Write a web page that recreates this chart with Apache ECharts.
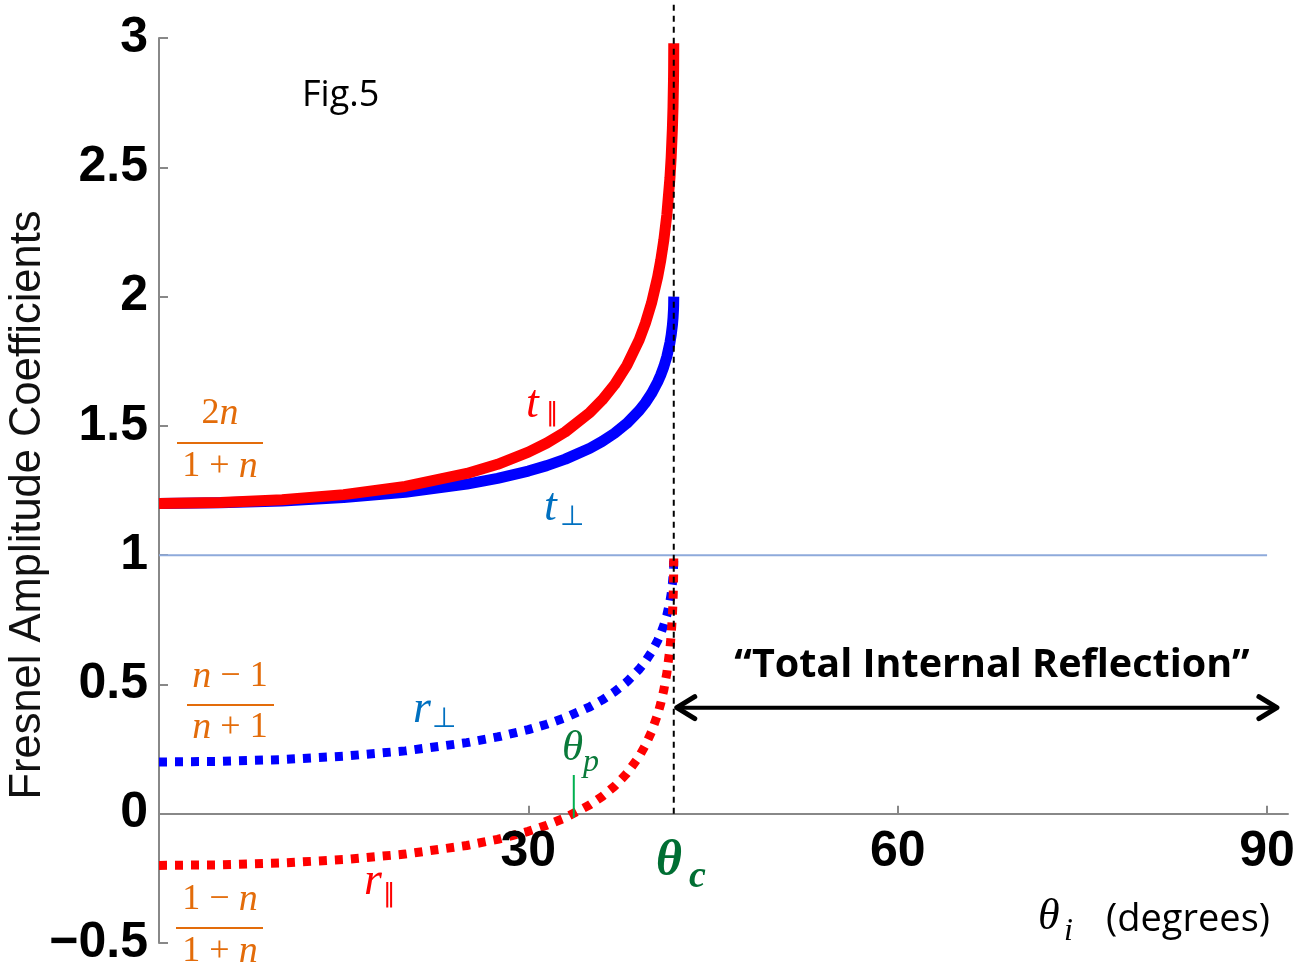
<!DOCTYPE html>
<html>
<head>
<meta charset="utf-8">
<script src="https://cdn.jsdelivr.net/npm/echarts@6/dist/echarts.min.js"></script>
<style>
html, body { margin: 0; padding: 0; background: #fff; }
#chart { width: 1306px; height: 968px; }
</style>
</head>
<body>
<div id="chart"></div>
<script>
// incidence angles (degrees) and the coefficients
const angles = [0, 5, 10, 15, 20, 25, 27.5, 30, 31.5, 33, 35, 36, 37, 38, 39, 39.5, 40, 40.5, 40.75, 41, 41.25, 41.5, 41.6, 41.7, 41.75, 41.79, 41.8, 41.81];
const tPar  = [1.2, 1.2035, 1.2143, 1.234, 1.2657, 1.3158, 1.3515, 1.3982, 1.4336, 1.4768, 1.5518, 1.6001, 1.6593, 1.7338, 1.8327, 1.8962, 1.9745, 2.0755, 2.1395, 2.2171, 2.3171, 2.4584, 2.5388, 2.6508, 2.7331, 2.8385, 2.8867, 2.98];
const tPerp = [1.2, 1.2023, 1.2095, 1.2225, 1.243, 1.2748, 1.2969, 1.3252, 1.3462, 1.3713, 1.4136, 1.4401, 1.4715, 1.5099, 1.5587, 1.5889, 1.6249, 1.6695, 1.6967, 1.7287, 1.7684, 1.8216, 1.8506, 1.8894, 1.9168, 1.9507, 1.9657, 2.0];
const rPar  = [-0.2, -0.1977, -0.1905, -0.1773, -0.1562, -0.1228, -0.099, -0.0679, -0.0443, -0.0155, 0.0345, 0.0667, 0.1062, 0.1559, 0.2218, 0.2642, 0.3163, 0.3837, 0.4263, 0.478, 0.5447, 0.6389, 0.6926, 0.7672, 0.822, 0.8923, 0.9245, 1.0];
const rPerp = [0.2, 0.2023, 0.2095, 0.2225, 0.243, 0.2748, 0.2969, 0.3252, 0.3462, 0.3713, 0.4136, 0.4401, 0.4715, 0.5099, 0.5587, 0.5889, 0.6249, 0.6695, 0.6967, 0.7287, 0.7684, 0.8216, 0.8506, 0.8894, 0.9168, 0.9507, 0.9657, 1.0];
const thetaC = 41.81;
const thetaP = 33.69;
const unityX = [0, 90];
const unityY = [1, 1];
const xTickValues = [30, 60, 90];

const pairs = ys => angles.map((a, i) => [a, ys[i]]);

const chart = echarts.init(document.getElementById('chart'));

const serif = '"Liberation Serif", "DejaVu Serif", serif';
const sans = '"Open Sans", "Noto Sans", sans-serif';
const arial = '"Liberation Sans", Arial, sans-serif';
const symb = '"DejaVu Sans", sans-serif';

function txt(x, y, text, font, color, align, vAlign, extra) {
    return Object.assign({
        type: 'text', x: x, y: y, z: 100,
        style: { text: text, font: font, fill: color, align: align || 'left', verticalAlign: vAlign || 'middle' }
    }, extra || {});
}
function hline(x1, x2, y, color, w) {
    return { type: 'line', z: 100, shape: { x1: x1, y1: y, x2: x2, y2: y }, style: { stroke: color, lineWidth: w } };
}

const orange = '#e36c0a';
// fraction pieces: italic n, upright digits and operators
const fracRich = {
    n: { fontFamily: '"Liberation Serif", serif', fontStyle: 'italic', fontSize: 38, fill: orange },
    d: { fontFamily: '"Liberation Serif", serif', fontSize: 36, fill: orange }
};
function frac(x, y, text) {
    return { type: 'text', x: x, y: y, z: 100, style: { text: text, rich: fracRich, align: 'center', verticalAlign: 'middle' } };
}

chart.setOption({
    animation: false,
    grid: { left: 159, right: 18, top: 38, bottom: 25, containLabel: false, outerBoundsMode: 'none' },
    xAxis: {
        type: 'value',
        min: 0,
        max: 91.7,
        axisLine: { onZero: true, lineStyle: { color: '#888', width: 2 } },
        axisTick: { inside: true, length: 8, customValues: xTickValues, lineStyle: { color: '#888', width: 2 } },
        axisLabel: { show: false },
        splitLine: { show: false }
    },
    yAxis: {
        type: 'value',
        min: -0.5,
        max: 3,
        interval: 0.5,
        axisLine: { show: true, lineStyle: { color: '#888', width: 2 } },
        axisTick: { show: true, inside: true, length: 9, lineStyle: { color: '#888', width: 2 } },
        axisLabel: {
            margin: 11,
            color: '#000',
            fontSize: 50,
            fontWeight: 'bold',
            fontFamily: arial,
            formatter: v => v < 0 ? '\u2212' + Math.abs(v) : String(v)
        },
        splitLine: { show: false }
    },
    series: [
        {
            name: 'unity', type: 'line', symbol: 'none', silent: true,
            data: unityX.map((x, i) => [x, unityY[i]]),
            lineStyle: { color: '#8eaadb', width: 2 }
        },
        {
            name: 't_perp', type: 'line', symbol: 'none',
            data: pairs(tPerp),
            lineStyle: { color: '#0000ff', width: 11, join: 'round' }
        },
        {
            name: 't_par', type: 'line', symbol: 'none',
            data: pairs(tPar),
            lineStyle: { color: '#ff0000', width: 11, join: 'round' }
        },
        {
            name: 'r_perp', type: 'line', symbol: 'none',
            data: pairs(rPerp),
            lineStyle: { color: '#0000ff', width: 9, type: [8, 8] }
        },
        {
            name: 'r_par', type: 'line', symbol: 'none',
            data: pairs(rPar),
            lineStyle: { color: '#ff0000', width: 9, type: [8, 8] }
        },
        {
            name: 'critical', type: 'line', symbol: 'none', clip: false, z: 5,
            data: [[thetaC, 0], [thetaC, 3.13]],
            lineStyle: { color: '#000', width: 2, type: [6, 5] }
        }
    ]
});

// annotations placed with the chart's own coordinate conversion
const px = p => chart.convertToPixel({ gridIndex: 0 }, p);
const arrowL = px([thetaC, 0.41]);
const arrowR = px([90.8, 0.41]);
const pPix = px([thetaP, 0]);
const ah = 18, aw = 11;

const xLabels = xTickValues.map(v => {
    const p = px([v, 0]);
    return txt(p[0], p[1] + 39, String(v), 'bold 50px ' + arial, '#000', 'center', 'middle');
});

chart.setOption({
    graphic: xLabels.concat([
        txt(28, 505, 'Fresnel Amplitude Coefficients', '43.5px ' + arial, '#111', 'center', 'middle', { rotation: Math.PI / 2 }),
        txt(302, 96, 'Fig.5', '36px ' + sans, '#000'),

        // t parallel / t perp
        txt(526, 405, 't', 'italic 46px ' + serif, '#ff0000'),
        txt(546, 414, '\u2225', '26px ' + symb, '#ff0000'),
        txt(544, 508, 't', 'italic 46px ' + serif, '#0070c0'),
        txt(560, 518, '\u22a5', '28px ' + symb, '#0070c0'),
        // r perp / r parallel
        txt(413, 710, 'r', 'italic 46px ' + serif, '#0070c0'),
        txt(432, 720, '\u22a5', '28px ' + symb, '#0070c0'),
        txt(364, 882, 'r', 'italic 46px ' + serif, '#ff0000'),
        txt(383, 895, '\u2225', '26px ' + symb, '#ff0000'),
        // theta_p
        txt(562, 749, '\u03b8', 'italic 43px ' + serif, '#0a7a3a'),
        txt(583, 763, 'p', 'italic 32px ' + serif, '#0a7a3a'),
        { type: 'line', z: 100, shape: { x1: pPix[0], y1: 775, x2: pPix[0], y2: pPix[1] + 4 }, style: { stroke: '#00b050', lineWidth: 2 } },
        // theta_c
        txt(656, 862, '\u03b8', 'italic bold 50px ' + serif, '#006e33'),
        txt(689, 877, 'c', 'italic bold 38px ' + serif, '#006e33'),

        // fractions
        frac(220, 414, '{d|2}{n|n}'),
        hline(177, 263, 443, orange, 2),
        frac(220, 467, '{d|1 + }{n|n}'),
        frac(230, 677, '{n|n}{d| \u2212 1}'),
        hline(187, 274, 705, orange, 2),
        frac(230, 728, '{n|n}{d| + 1}'),
        frac(220, 900, '{d|1 \u2212 }{n|n}'),
        hline(176, 263, 928, orange, 2),
        frac(220, 952, '{d|1 + }{n|n}'),

        // total internal reflection
        txt(992, 666, '\u201cTotal Internal Reflection\u201d', 'bold 39.5px ' + sans, '#000', 'center'),
        { type: 'line', z: 100, shape: { x1: arrowL[0] + 3, y1: arrowL[1], x2: arrowR[0], y2: arrowR[1] }, style: { stroke: '#000', lineWidth: 4 } },
        { type: 'polyline', z: 100, shape: { points: [[arrowL[0] + 3 + ah, arrowL[1] - aw], [arrowL[0] + 3, arrowL[1]], [arrowL[0] + 3 + ah, arrowL[1] + aw]] }, style: { stroke: '#000', lineWidth: 5, fill: 'none', lineCap: 'round', lineJoin: 'round' } },
        { type: 'polyline', z: 100, shape: { points: [[arrowR[0] - ah, arrowR[1] - aw], [arrowR[0], arrowR[1]], [arrowR[0] - ah, arrowR[1] + aw]] }, style: { stroke: '#000', lineWidth: 5, fill: 'none', lineCap: 'round', lineJoin: 'round' } },

        // x axis name
        txt(1038, 917, '\u03b8', 'italic 44px ' + serif, '#000'),
        txt(1064, 932, 'i', 'italic 32px ' + serif, '#000'),
        txt(1106, 920, '(degrees)', '38px ' + sans, '#000')
    ])
});
</script>
</body>
</html>
